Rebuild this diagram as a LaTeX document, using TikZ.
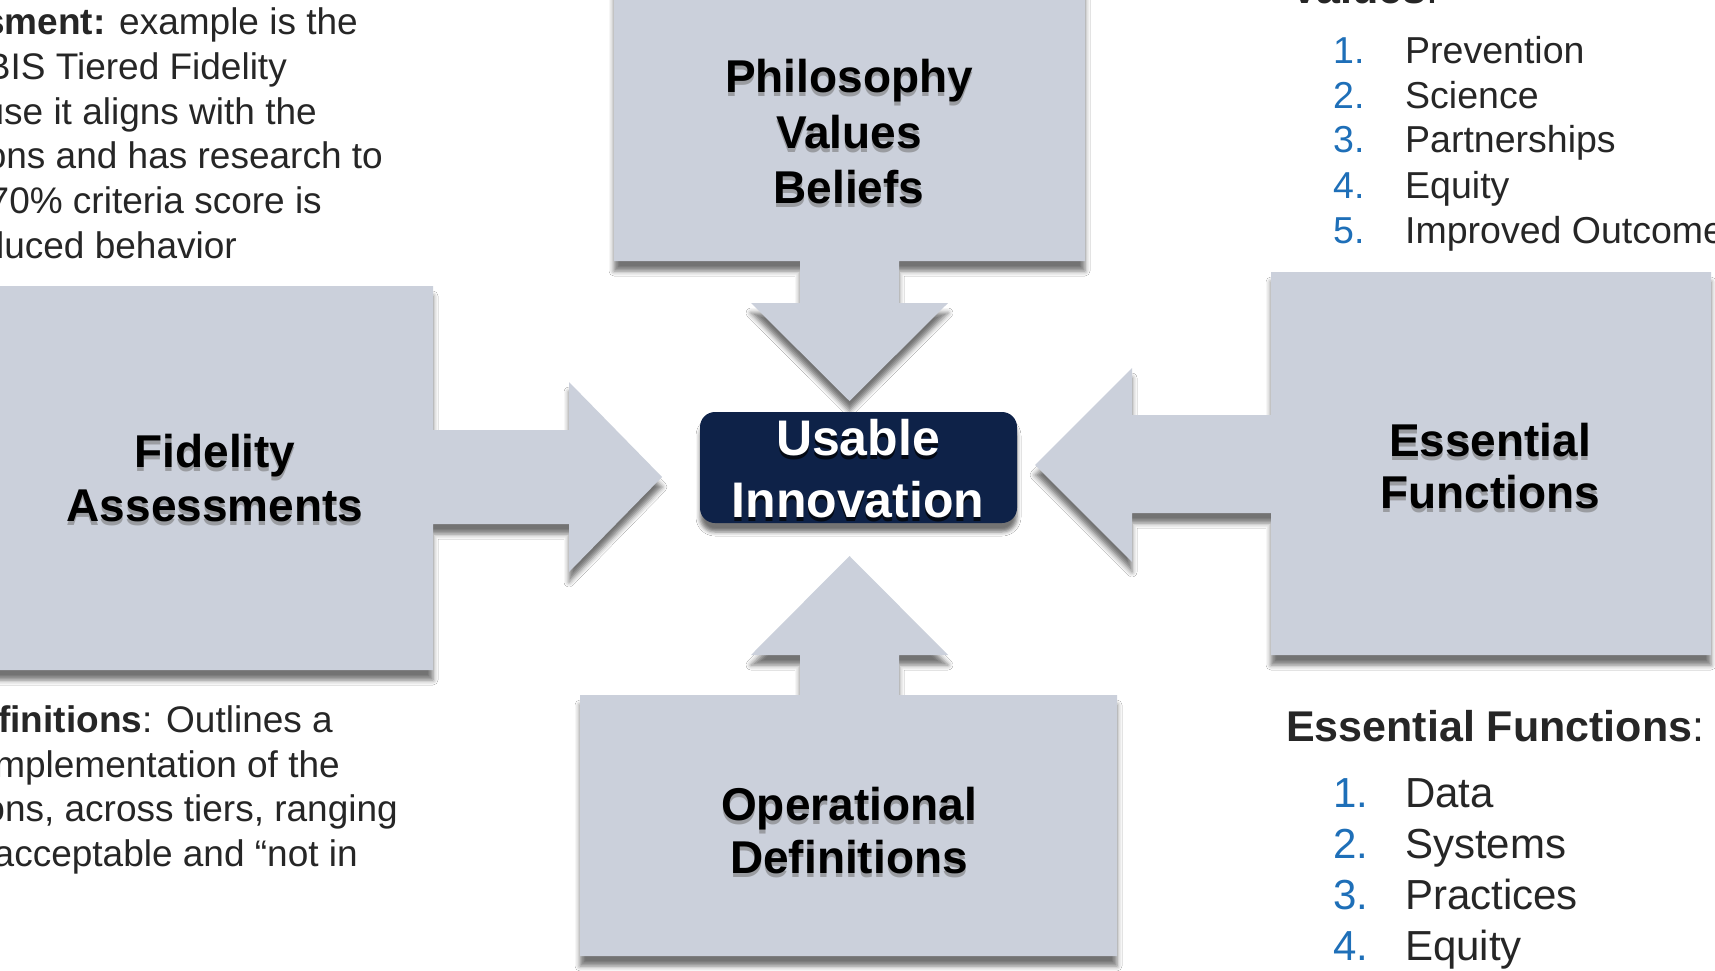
\documentclass[tikz,border=0pt]{standalone}
\usepackage{fontspec}
\setmainfont{Liberation Sans}
\usetikzlibrary{shadows.blur}

\definecolor{panelgray}{HTML}{CBD0DB}
\definecolor{navy}{HTML}{0E2248}
\definecolor{numblue}{HTML}{1E6FB8}
\definecolor{bodytext}{HTML}{262626}

\tikzset{
  panel/.style={fill=panelgray,
    blur shadow={shadow xshift=0pt, shadow yshift=-10pt,
                 shadow blur radius=5pt, shadow opacity=55}},
  title/.style={font=\fontsize{46}{55}\selectfont\bfseries, text=black,
                inner sep=0pt, anchor=base},
  titleshade/.style={title, text=black!55, opacity=0.55},
  coretext/.style={font=\fontsize{50}{60}\selectfont\bfseries, text=white,
                   inner sep=0pt, anchor=base},
  coreshade/.style={coretext, text=black, opacity=0.7},
  body/.style={font=\fontsize{37}{45}\selectfont, text=bodytext, inner sep=0pt},
  listnum/.style={font=\fontsize{#1}{#1}\selectfont, text=numblue,
                  inner sep=0pt, anchor=base west},
  listitem/.style={font=\fontsize{#1}{#1}\selectfont, text=bodytext,
                   inner sep=0pt, anchor=base west},
  heading/.style={font=\fontsize{43}{50}\selectfont, text=bodytext,
                  inner sep=0pt, anchor=base west}
}

% a bold panel label with a soft drop shadow under the letters
\newcommand{\paneltitle}[4]{%
  \node[titleshade] at (#2,#3+4) {#4};
  \node[title] (#1) at (#2,#3) {#4};}
\newcommand{\coreline}[4]{%
  \node[coreshade] at (#2,#3+4) {#4};
  \node[coretext] (#1) at (#2,#3) {#4};}

\begin{document}
\begin{tikzpicture}[x=1pt,y=-1pt]
\useasboundingbox (0,0) rectangle (1715,971);
\clip (0,0) rectangle (1715,971);
\fill[white] (0,0) rectangle (1715,971);

% top panel pointing down
\fill[panel] (614,-30) -- (1085,-30) -- (1085,261) -- (899,261) -- (899,303)
  -- (948,303) -- (849.5,401) -- (751,303) -- (800,303) -- (800,261)
  -- (614,261) -- cycle;
% bottom panel pointing up
\fill[panel] (580,695) -- (800,695) -- (800,655) -- (751,655) -- (849.5,556)
  -- (948,655) -- (899,655) -- (899,695) -- (1117,695) -- (1117,956)
  -- (580,956) -- cycle;
% left panel pointing right
\fill[panel] (-30,286) -- (433,286) -- (433,430) -- (569,430) -- (569,382)
  -- (662,477) -- (569,572) -- (569,524) -- (433,524) -- (433,670)
  -- (-30,670) -- cycle;
% right panel pointing left
\fill[panel] (1711,272) -- (1711,655) -- (1271,655) -- (1271,513)
  -- (1132,513) -- (1132,562) -- (1035,465) -- (1132,368) -- (1132,415)
  -- (1271,415) -- (1271,272) -- cycle;

% panel labels
\paneltitle{phil}{849}{93}{Philosophy}
\paneltitle{vals}{849}{148}{Values}
\paneltitle{beli}{849}{203}{Beliefs}
\paneltitle{fide}{215}{467}{Fidelity}
\paneltitle{asse}{215}{521}{Assessments}
\paneltitle{esse}{1490}{456}{Essential}
\paneltitle{func}{1490}{508}{Functions}
\paneltitle{oper}{849}{820}{Operational}
\paneltitle{defi}{849}{873}{Definitions}

% central box
\node[fill=navy, rounded corners=15pt, minimum width=317pt, minimum height=111pt,
      inner sep=0pt,
      blur shadow={shadow xshift=0pt, shadow yshift=-9pt,
                   shadow blur radius=4pt, shadow opacity=55}]
  (core) at (858.5,467.5) {};
\coreline{usab}{858}{455}{Usable}
\coreline{inno}{858}{517}{Innovation}

% notes on the left
\node[body, anchor=base east] (a1) at (358,35)    {\textbf{sment:} example is the};
\node[body, anchor=base east] (a2) at (287,79.6)  {BIS Tiered Fidelity};
\node[body, anchor=base east] (a3) at (317,124.2) {use it aligns with the};
\node[body, anchor=base east] (a4) at (383,168.8) {ons and has research to};
\node[body, anchor=base east] (a5) at (322,213.4) {70\% criteria score is};
\node[body, anchor=base east] (a6) at (237,258)   {luced behavior};

\node[body, anchor=base east] (b1) at (333,732) {\textbf{efinitions}: Outlines a};
\node[body, anchor=base east] (b2) at (340,777) {mplementation of the};
\node[body, anchor=base east] (b3) at (398,821) {ons, across tiers, ranging};
\node[body, anchor=base east] (b4) at (358,866) {acceptable and “not in};

% values list
\node[heading] (vhead) at (1290,4) {\textbf{Values}:};
\foreach \n/\t/\y in {1/Prevention/64, 2/Science/109, 3/Partnerships/153,
                      4/Equity/198, 5/Improved Outcomes/243} {
  \node[listnum=37.5] (vn\n) at (1333,\y) {\n.};
  \node[listitem=37.5] (vi\n) at (1405,\y) {\t};
}

% essential functions list
\node[heading] (ehead) at (1286,741) {\textbf{Essential Functions}:};
\foreach \n/\t/\y in {1/Data/807, 2/Systems/858, 3/Practices/909, 4/Equity/960} {
  \node[listnum=42] (en\n) at (1333,\y) {\n.};
  \node[listitem=42] (ei\n) at (1405,\y) {\t};
}
\end{tikzpicture}
\end{document}
